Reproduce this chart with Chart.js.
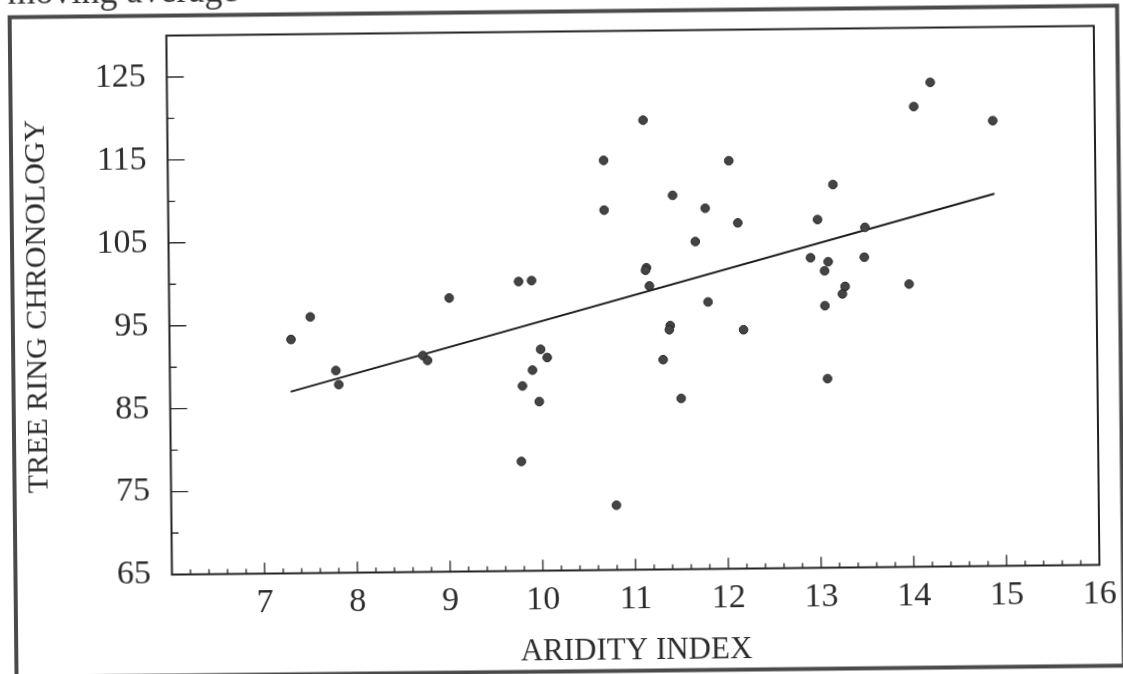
<!DOCTYPE html>
<html>
<head>
<meta charset="utf-8">
<script src="https://cdn.jsdelivr.net/npm/chart.js@4.4.1/dist/chart.umd.min.js"></script>
<style>
  html, body { margin: 0; padding: 0; overflow: hidden; background: #fff; }
  /* the scanned figure sits slightly tilted on the page */
  #wrap { position: absolute; left: -20px; top: -20px; width: 1163px; height: 714px; transform: rotate(-0.6deg); }
</style>
</head>
<body>
<div id="wrap"><canvas id="chart"></canvas></div>
<script>
// aridity index (x) and tree ring chronology (y)
const aridity = [7.31, 7.52, 7.79, 7.82, 8.73, 8.78, 9.02, 9.77, 9.91, 10.00,
    10.07, 9.91, 9.80, 9.98, 9.78, 11.13, 10.70, 12.05, 13.17, 11.44,
    10.70, 11.79, 12.14, 13.00, 13.51, 11.68, 12.92, 13.11, 13.07, 13.50,
    11.15, 11.14, 11.18, 13.29, 13.26, 13.07, 11.81, 11.40, 11.39, 12.19,
    11.32, 13.09, 11.51, 10.80, 14.23, 14.05, 14.90, 13.98];
const chronology = [93.2, 95.9, 89.4, 87.7, 91.1, 90.5, 98.0, 99.9, 100.0, 91.7,
    90.7, 89.2, 87.3, 85.4, 78.2, 119.2, 114.4, 114.2, 111.2, 110.1,
    108.4, 108.5, 106.7, 107.0, 106.0, 104.5, 102.4, 101.9, 100.8, 102.4,
    101.4, 101.1, 99.2, 98.9, 98.0, 96.6, 97.2, 94.4, 93.9, 93.8,
    90.3, 87.8, 85.6, 72.8, 123.4, 120.5, 118.7, 99.1];

// fitted line end points
const fitX = [7.30, 14.91];
const fitY = [86.9, 109.9];

const xTicks = [7, 8, 9, 10, 11, 12, 13, 14, 15, 16];
const yTicks = [65, 75, 85, 95, 105, 115, 125];

const serif = '"Liberation Serif", "DejaVu Serif", serif';
const ink = '#2b2b2b';

// page frame, box round the plot and the little inward tick marks
const scanDecor = {
    id: 'scanDecor',
    beforeDraw(chart) {
        const ctx = chart.ctx;
        ctx.save();
        ctx.strokeStyle = '#4a4a4a';
        ctx.lineWidth = 4;
        ctx.strokeRect(33, 31.5, 1107.5, 660);
        // cut-off line of text above the figure
        ctx.fillStyle = '#333';
        ctx.font = '36px ' + serif;
        ctx.textBaseline = 'alphabetic';
        ctx.fillText('moving average', 31, 18);
        ctx.restore();
    },
    beforeDatasetsDraw(chart) {
        const {ctx, chartArea: a, scales: {x, y}} = chart;
        ctx.save();
        ctx.strokeStyle = '#333';
        ctx.lineWidth = 1.4;
        ctx.beginPath();
        for (let i = 31; i < 80; i++) {
            const px = x.getPixelForValue(i / 5);
            ctx.moveTo(px, a.bottom);
            ctx.lineTo(px, a.bottom - (i % 5 === 0 ? 11 : 5));
        }
        for (let v = 70; v <= 125; v += 5) {
            const py = y.getPixelForValue(v);
            ctx.moveTo(a.left, py);
            ctx.lineTo(a.left + ((v - 65) % 10 === 0 ? 17 : 7), py);
        }
        ctx.stroke();
        ctx.strokeStyle = '#222';
        ctx.lineWidth = 2;
        ctx.strokeRect(a.left, a.top, a.right - a.left, a.bottom - a.top);
        ctx.restore();
    }
};

const ctx = document.querySelector('#chart').getContext('2d');
const chart = new Chart(ctx, {
    type: 'scatter',
    data: {
        datasets: [{
            label: 'Tree ring chronology',
            data: aridity.map((v, i) => ({x: v, y: chronology[i]})),
            pointRadius: 4.3,
            pointBackgroundColor: '#444',
            pointBorderColor: '#262626',
            pointBorderWidth: 1
        },
        {
            label: 'Fit',
            type: 'line',
            data: fitX.map((v, i) => ({x: v, y: fitY[i]})),
            borderColor: '#1a1a1a',
            borderWidth: 2,
            pointRadius: 0,
            fill: false
        }]
    },
    options: {
        responsive: true,
        maintainAspectRatio: false,
        animation: false,
        layout: {
            padding: {left: 20, top: 51.5, right: 46, bottom: 20}
        },
        scales: {
            x: {
                type: 'linear',
                min: 6,
                max: 16,
                afterBuildTicks: (s) => { s.ticks = xTicks.map(v => ({value: v})); },
                afterFit: (s) => { s.height = 103.5; },
                grid: {display: false, drawTicks: false},
                border: {display: false},
                ticks: {
                    padding: 9,
                    color: ink,
                    font: {family: serif, size: 34}
                },
                title: {
                    display: true,
                    text: 'ARIDITY INDEX',
                    color: ink,
                    font: {family: serif, size: 31},
                    padding: {top: 0, bottom: 4}
                }
            },
            y: {
                min: 65,
                max: 130,
                afterBuildTicks: (s) => { s.ticks = yTicks.map(v => ({value: v})); },
                afterFit: (s) => { s.width = 169.5; },
                grid: {display: false, drawTicks: false},
                border: {display: false},
                ticks: {
                    padding: 21,
                    color: ink,
                    font: {family: serif, size: 34}
                },
                title: {
                    display: true,
                    text: 'TREE RING CHRONOLOGY',
                    color: ink,
                    font: {family: serif, size: 30},
                    padding: {top: 20, bottom: 0}
                }
            }
        },
        plugins: {
            legend: {display: false},
            tooltip: {enabled: false}
        }
    },
    plugins: [scanDecor]
});
</script>
</body>
</html>
